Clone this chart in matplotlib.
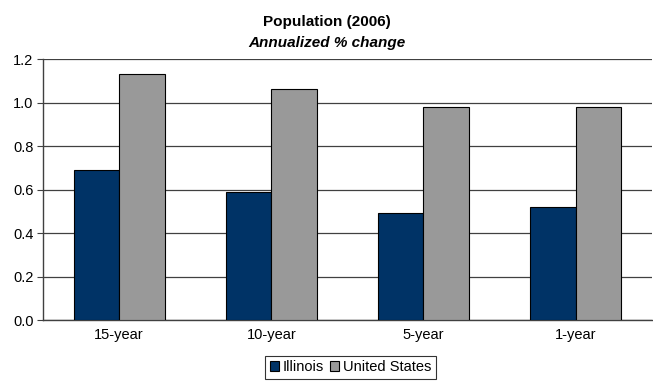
import matplotlib
matplotlib.use('Agg')
import matplotlib.pyplot as plt
import numpy as np

# data
periods = ['15-year', '10-year', '5-year', '1-year']
illinois = [0.69, 0.59, 0.49, 0.52]
united_states = [1.13, 1.06, 0.98, 0.98]

plt.rcParams['font.family'] = ['Liberation Sans', 'DejaVu Sans']

fig = plt.figure(figsize=(6.53, 3.87), dpi=100)
ax = fig.add_axes([0.066, 0.173, 0.932, 0.6745])

x = np.arange(len(periods))
w = 0.3
ax.bar(x - w/2, illinois, w, color='#003366', edgecolor='black', linewidth=0.8,
       label='Illinois', zorder=3)
ax.bar(x + w/2, united_states, w, color='#999999', edgecolor='black', linewidth=0.8,
       label='United States', zorder=3)

ax.set_xlim(-0.5, len(periods) - 0.5)
ax.set_ylim(0, 1.2)
ax.set_yticks(np.arange(0, 1.21, 0.2))
ax.set_yticklabels(['%.1f' % v for v in np.arange(0, 1.21, 0.2)])
ax.set_xticks(x)
ax.set_xticklabels(periods)
ax.tick_params(axis='x', length=0, labelsize=10.5, pad=6)
ax.tick_params(axis='y', length=4, labelsize=10.5, color='#404040', pad=3)
ax.yaxis.grid(True, color='#404040', linewidth=0.9, zorder=0)

for s in ['top', 'right']:
    ax.spines[s].set_visible(False)
ax.spines['left'].set_color('#404040')
ax.spines['bottom'].set_color('#404040')
ax.spines['left'].set_linewidth(1.0)
ax.spines['bottom'].set_linewidth(1.0)

fig.text(0.5, 0.933, 'Population (2006)', ha='center', fontsize=11, fontweight='bold')
fig.text(0.5, 0.879, 'Annualized % change', ha='center', fontsize=11,
         fontweight='bold', style='italic')

leg = fig.legend(loc='lower center', bbox_to_anchor=(0.537, 0.003), ncol=2,
                 fontsize=10.5, frameon=True, fancybox=False, handlelength=0.6,
                 handleheight=0.6, handletextpad=0.3, columnspacing=0.4,
                 borderpad=0.3)
leg.get_frame().set_edgecolor('black')
leg.get_frame().set_linewidth(0.8)

fig.savefig('out.png', dpi=100)
